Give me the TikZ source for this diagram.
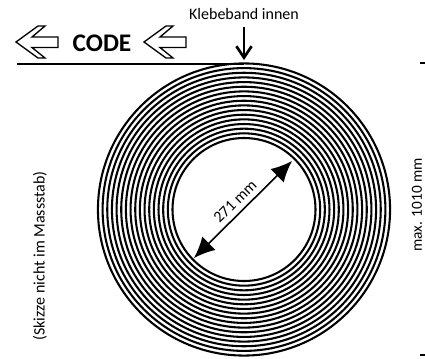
\documentclass[tikz,border=0pt]{standalone}
\usepackage{fontspec}
\setmainfont{Carlito}
\usetikzlibrary{arrows.meta}
\tikzset{
	ring/.style={line width=1.55pt},
	hollowarrow/.style={line width=1pt, line join=miter, fill=white},
	lbl/.style={font=\fontsize{12}{14}\selectfont, inner sep=0pt},
	tick/.style={line width=1.1pt}
}
\newcommand{\codearrow}[1]{\draw[hollowarrow, shift={(#1,0)}] (16,42) -- (38,26) -- (45,26) -- (32,37) -- (58,37) -- (58,47.5) -- (32,47.5) -- (45,58) -- (38,58) -- cycle;}
\begin{document}
\begin{tikzpicture}[x=0.75pt, y=-0.75pt]
			\useasboundingbox (0,0) rectangle (425,358);
			\coordinate (Center) at (244,209.5);
			
			\foreach \r in {0,...,16}{
				\draw[ring] (Center) circle ({71.5+\r*4.66});
			}
			
			\codearrow{0}
			\codearrow{128}
			\node[font=\fontsize{19}{22}\selectfont\bfseries, inner sep=0pt](Code) at (102,43.5){CODE};
			\node[lbl](Klebeband) at (244,14){Klebeband innen};
			\node[lbl, rotate=90](Skizze) at (40,256){(Skizze nicht im Massstab)};
			\node[lbl, rotate=90, font=\fontsize{11.5}{14}\selectfont](Max) at (417,205){max. 1010 mm};
			
			\coordinate (TapeStart) at (17,64);
			\coordinate (TapeEnd) at (244,64);
			\draw[line width=1.3pt] (TapeStart) -- (TapeEnd);
			
			\coordinate (TapeTop) at (244,27);
			\coordinate (TapeTip) at (244,60);
			\draw[-{Straight Barb[length=3mm, width=4mm]}, line width=2pt] (TapeTop) -- (TapeTip);
			
			\coordinate (BoreA) at (194,258);
			\coordinate (BoreB) at (292,161);
			\draw[{Latex[length=5.5mm, width=5mm]}-{Latex[length=5.5mm, width=5mm]}, line width=1.2pt] (BoreA) -- node[midway, sloped, above, lbl, yshift=4pt]{271 mm} (BoreB);
			
			\coordinate (TickTopA) at (420,63);
			\coordinate (TickTopB) at (425,63);
			\coordinate (TickBotA) at (420,355);
			\coordinate (TickBotB) at (425,355);
			\draw[tick] (TickTopA) -- (TickTopB);
			\draw[tick] (TickBotA) -- (TickBotB);
		\end{tikzpicture}
\end{document}
